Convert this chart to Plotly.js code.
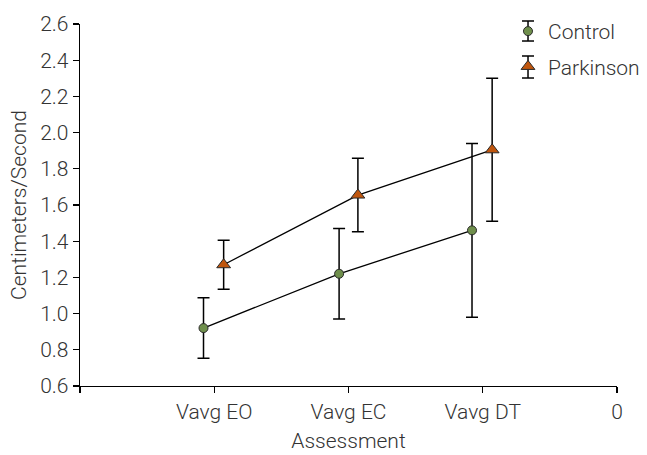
<!DOCTYPE html>
<html>
<head>
<meta charset="utf-8">
<script src="https://cdn.plot.ly/plotly-3.0.1.min.js"></script>
<style>html,body{margin:0;padding:0;background:#fff;}#chart{width:647px;height:455px;}</style>
</head>
<body>
<div id="chart"></div>
<script>
// Data
const categories = ['Vavg EO', 'Vavg EC', 'Vavg DT'];
const tickLabels = ['', 'Vavg EO', 'Vavg EC', 'Vavg DT', '0'];
const tickPositions = [0, 1, 2, 3, 4];
const controlX = [0.92, 1.93, 2.92];
const controlY = [0.92, 1.22, 1.46];
const controlErr = [0.167, 0.25, 0.48];
const parkinsonX = [1.07, 2.07, 3.07];
const parkinsonY = [1.27, 1.655, 1.905];
const parkinsonErr = [0.135, 0.203, 0.395];

const font = {family: 'Roboto, "Open Sans", sans-serif', size: 21, color: '#333333', weight: 300};

const errStyle = {type: 'data', visible: true, color: '#000000', thickness: 1.5, width: 6};

const traces = [
  {x: controlX, y: controlY, type: 'scatter', mode: 'lines', showlegend: false,
   line: {color: '#000000', width: 1.3}, hoverinfo: 'skip'},
  {x: parkinsonX, y: parkinsonY, type: 'scatter', mode: 'lines', showlegend: false,
   line: {color: '#000000', width: 1.3}, hoverinfo: 'skip'},
  {
    x: controlX, y: controlY, name: 'Control', type: 'scatter', mode: 'markers',
    text: categories, legendgroup: 'c',
    marker: {symbol: 'circle', size: 9, color: '#6f8f4c', line: {color: '#2a2a2a', width: 1}},
    error_y: Object.assign({array: controlErr}, errStyle)
  },
  {
    x: parkinsonX, y: parkinsonY, name: 'Parkinson', type: 'scatter', mode: 'markers',
    text: categories, legendgroup: 'p',
    marker: {symbol: 'triangle-up', size: 12, color: '#c0560e', line: {color: '#2a2a2a', width: 1}},
    error_y: Object.assign({array: parkinsonErr}, errStyle)
  }
];

// legend error-bar glyphs (decoration)
function glyph(cx, top, bottom, half) {
  const ln = {color: '#000000', width: 1.5};
  return [
    {type: 'line', xref: 'paper', yref: 'paper', x0: cx, x1: cx, y0: bottom, y1: top, line: ln},
    {type: 'line', xref: 'paper', yref: 'paper', x0: cx - half, x1: cx + half, y0: top, y1: top, line: ln},
    {type: 'line', xref: 'paper', yref: 'paper', x0: cx - half, x1: cx + half, y0: bottom, y1: bottom, line: ln}
  ];
}
const shapes = [].concat(
  glyph(0.8343, 1.0083, 0.953, 0.0112),
  glyph(0.8343, 0.9116, 0.8508, 0.0112)
);

const layout = {
  width: 647, height: 455,
  margin: {l: 80, r: 30, t: 24, b: 69, autoexpand: false},
  paper_bgcolor: '#ffffff', plot_bgcolor: '#ffffff',
  font: font,
  showlegend: true,
  shapes: shapes,
  legend: {
    x: 0.797, xanchor: 'left', y: 1.036, yanchor: 'top',
    font: font, bgcolor: 'rgba(0,0,0,0)',
    traceorder: 'grouped', tracegroupgap: 5, itemwidth: 30
  },
  xaxis: {
    range: [0, 4], tickmode: 'array', tickvals: tickPositions, ticktext: tickLabels,
    showgrid: false, zeroline: false, showline: true, linecolor: '#000', linewidth: 1.3,
    ticks: 'outside', ticklen: 6, tickcolor: '#000', tickwidth: 1.3,
    tickfont: font,
    title: {text: 'Assessment', font: font, standoff: 10}
  },
  yaxis: {
    range: [0.6, 2.6], dtick: 0.2, tick0: 0.6, tickformat: '.1f',
    showgrid: false, zeroline: false, showline: true, linecolor: '#000', linewidth: 1.3,
    ticks: 'outside', ticklen: 6, tickcolor: '#000', tickwidth: 1.3,
    tickfont: font,
    title: {text: 'Centimeters/Second', font: font, standoff: 7}
  }
};

Plotly.newPlot('chart', traces, layout, {displayModeBar: false, staticPlot: true});
</script>
</body>
</html>
